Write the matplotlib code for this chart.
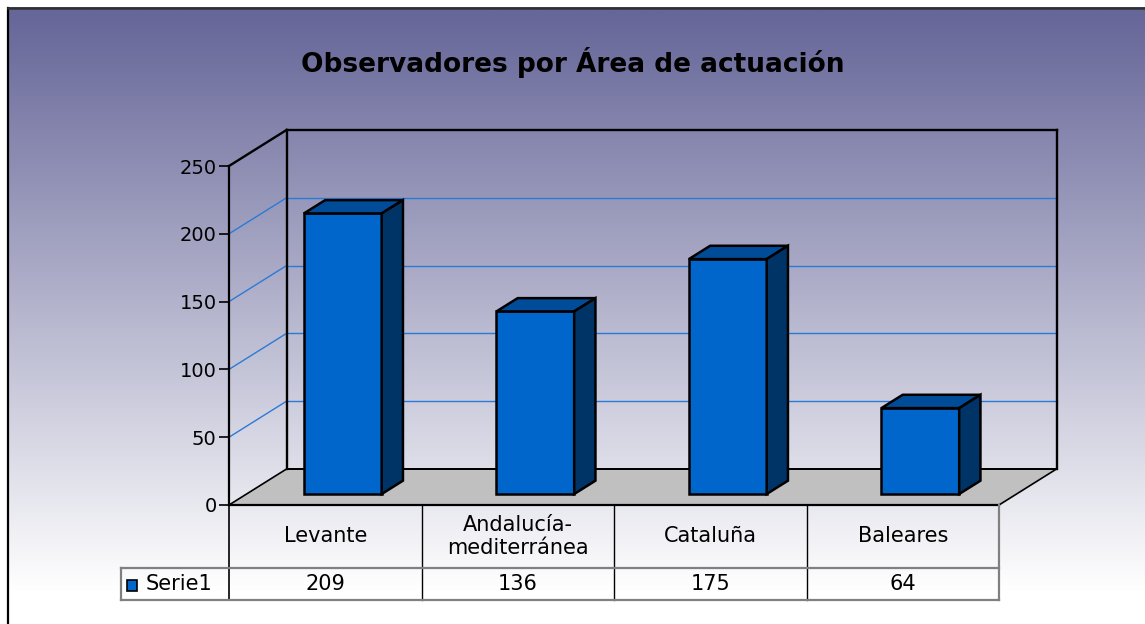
import numpy as np
import matplotlib
matplotlib.use("Agg")
import matplotlib.pyplot as plt
from matplotlib.patches import Polygon, Rectangle

# ---------------- data ----------------
title = "Observadores por Área de actuación"
categories = ["Levante", "Andalucía-\nmediterránea", "Cataluña", "Baleares"]
series_name = "Serie1"
values = [209, 136, 175, 64]
yticks = [0, 50, 100, 150, 200, 250]

# ---------------- figure ----------------
W, H = 1145, 624
DPI = 100
fig = plt.figure(figsize=(W / DPI, H / DPI), dpi=DPI)
plt.rcParams['font.family'] = ['DejaVu Sans']

# background gradient + border (pixel coordinates)
bg = fig.add_axes([0, 0, 1, 1])
bg.set_xlim(0, W)
bg.set_ylim(H, 0)
bg.axis('off')
top = np.array([102, 102, 153]) / 255.0
bot = np.array([1.0, 1.0, 1.0])
y0g, y1g = 7, 590
grad = np.zeros((400, 1, 3))
for k, yy in enumerate(np.linspace(0, H, 400)):
    t = np.clip((yy - y0g) / (y1g - y0g), 0, 1)
    grad[k, 0, :] = top + (bot - top) * t
bg.imshow(grad, extent=[7, W + 5, H, 7], aspect='auto', interpolation='bilinear', zorder=0)
bg.plot([7.5, 7.5], [H + 5, 7.5], color='black', lw=1.6, zorder=1)
bg.plot([7.5, W + 5], [7.5, 7.5], color='#303030', lw=1.8, zorder=1)

# main axes: front plane of the 3D box
x_left, x_right = 229, 999
y_zero, y_top = 505, 166
ymax = 250
ax = fig.add_axes([x_left / W, (H - y_zero) / H, (x_right - x_left) / W, (y_zero - y_top) / H])
n = len(categories)
ax.set_xlim(0, n)
ax.set_ylim(0, ymax)
ax.patch.set_alpha(0)
for s in ['top', 'right', 'bottom']:
    ax.spines[s].set_visible(False)
ax.spines['left'].set_linewidth(1.6)
ax.spines['left'].set_color('black')
ax.set_xticks([])
ax.set_yticks(yticks)
ax.set_yticklabels([str(t) for t in yticks], fontsize=14)
ax.tick_params(axis='y', direction='out', length=7, width=1.2, pad=2)

pxx = (x_right - x_left) / n          # pixels per category unit
pxy = (y_zero - y_top) / ymax          # pixels per value unit
DX = 57.5 / pxx                        # depth offset (data units)
DY = 36.0 / pxy

grid_c = '#2a7ad8'
# gridlines on back wall and side wall
for t in yticks[1:-1]:
    ax.plot([DX, n + DX], [t + DY, t + DY], color=grid_c, lw=1.0, clip_on=False, zorder=1)
    ax.plot([0, DX], [t, t + DY], color=grid_c, lw=1.0, clip_on=False, zorder=1)

# floor
ax.add_patch(Polygon([(0, 0), (DX, DY), (n + DX, DY), (n, 0)], closed=True,
                     facecolor='#c0c0c0', edgecolor='black', lw=1.2, clip_on=False, zorder=2))

# wall edges
ek = dict(color='black', lw=1.7, clip_on=False, zorder=3, solid_capstyle='projecting')
ax.plot([0, DX], [ymax, ymax + DY], **ek)
ax.plot([DX, DX], [DY, ymax + DY], **ek)
ax.plot([DX, n + DX], [ymax + DY, ymax + DY], **ek)
ax.plot([n + DX, n + DX], [DY, ymax + DY], **ek)
ax.plot([DX, n + DX], [DY, DY], color='black', lw=1.4, clip_on=False, zorder=3)
ax.plot([0, n], [0, 0], color='black', lw=1.6, clip_on=False, zorder=3)

# bars
f = 0.305     # depth position of bar front
d = 0.37      # bar depth fraction
bw = 0.404    # bar width (category units)
front_c, top_c, side_c = '#0066cc', '#004c99', '#003366'
for i, v in enumerate(values):
    xl = i + 0.5 - bw / 2 + f * DX
    yb = f * DY
    xr = xl + bw
    yt = yb + v * 0.99
    ddx, ddy = d * DX, d * DY
    kw = dict(closed=True, edgecolor='black', lw=1.8, clip_on=False, zorder=5, joinstyle='miter')
    ax.add_patch(Polygon([(xl, yb), (xr, yb), (xr, yt), (xl, yt)], facecolor=front_c, **kw))
    ax.add_patch(Polygon([(xl, yt), (xr, yt), (xr + ddx, yt + ddy), (xl + ddx, yt + ddy)], facecolor=top_c, **kw))
    ax.add_patch(Polygon([(xr, yb), (xr + ddx, yb + ddy), (xr + ddx, yt + ddy), (xr, yt)], facecolor=side_c, **kw))

# data table (below the front plane)
row1 = -(568 - y_zero) / pxy
row2 = -(600 - y_zero) / pxy
leg_left = -(x_left - 121) / pxx
tk = dict(clip_on=False, zorder=4)
gray = '#808080'
ax.plot([0, 0], [0, row2], color='black', lw=1.2, **tk)
for i in range(1, n):
    ax.plot([i, i], [0, row2], color='black', lw=1.0, **tk)
ax.plot([n, n], [0, row2], color=gray, lw=1.6, **tk)
ax.plot([leg_left, n], [row1, row1], color=gray, lw=1.6, **tk)
ax.plot([leg_left, n], [row2, row2], color=gray, lw=1.6, **tk)
ax.plot([leg_left, leg_left], [row1, row2], color=gray, lw=1.6, **tk)

for i, c in enumerate(categories):
    ax.text(i + 0.5, row1 / 2, c, ha='center', va='center', fontsize=15,
            linespacing=1.15, clip_on=False)
for i, v in enumerate(values):
    ax.text(i + 0.5, (row1 + row2) / 2, str(v), ha='center', va='center', fontsize=15, clip_on=False)

# legend key
kx0 = -(x_left - 127) / pxx
kx1 = -(x_left - 137) / pxx
ky0 = -(591 - y_zero) / pxy
ky1 = -(580 - y_zero) / pxy
ax.add_patch(Rectangle((kx0, ky0), kx1 - kx0, ky1 - ky0, facecolor=front_c,
                       edgecolor='black', lw=1.2, clip_on=False, zorder=5))
ax.text(-(x_left - 146) / pxx, (row1 + row2) / 2, series_name, ha='left', va='center',
        fontsize=15, clip_on=False)

# title
fig.text(573 / W, 1 - 62 / H, title, ha='center', va='center', fontsize=19, fontweight='bold')

fig.savefig('out.png', dpi=DPI)
